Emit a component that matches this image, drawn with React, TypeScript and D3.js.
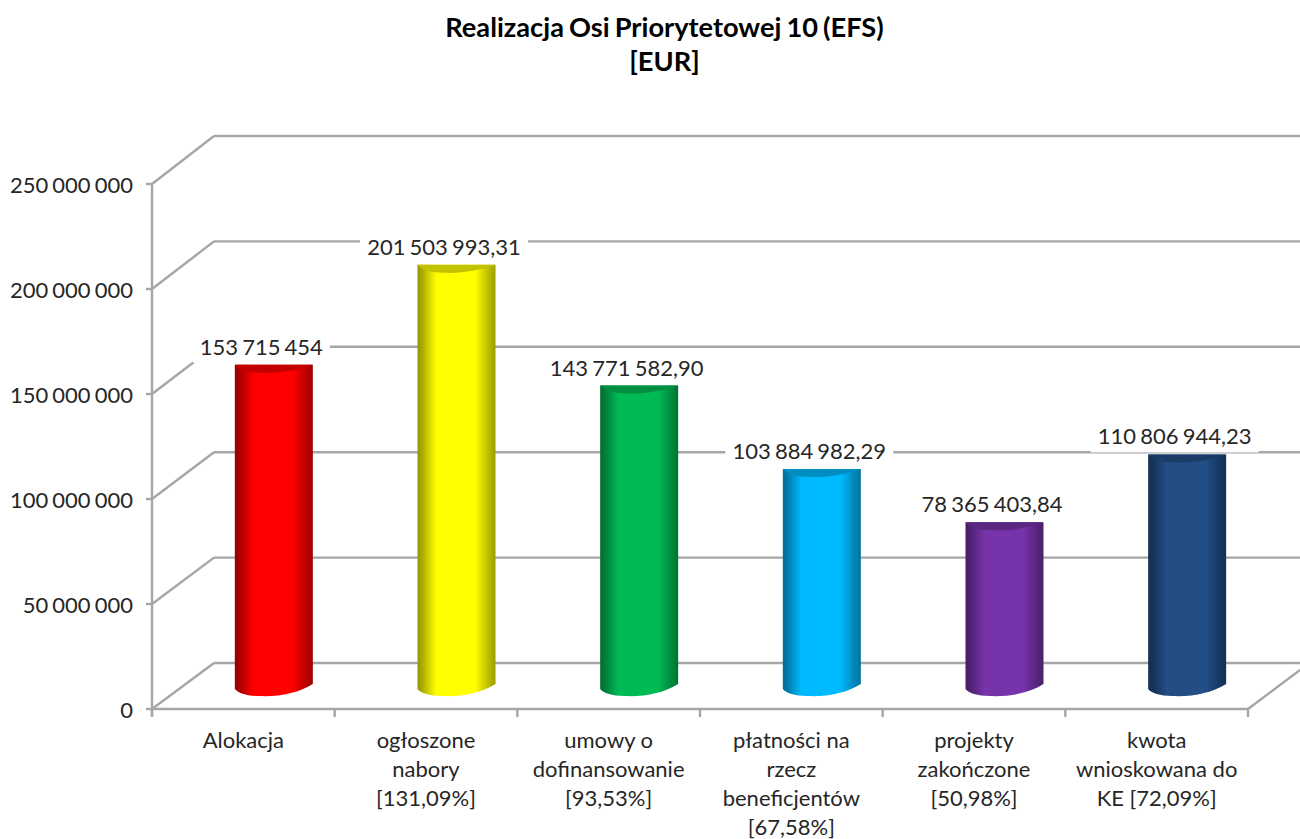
import React from "react";
import * as d3 from "d3";

const titleLines = ["Realizacja Osi Priorytetowej 10 (EFS)", "[EUR]"];
const categoryLines = [
  ["Alokacja"],
  ["ogłoszone", "nabory", "[131,09%]"],
  ["umowy o", "dofinansowanie", "[93,53%]"],
  ["płatności na", "rzecz", "beneficjentów", "[67,58%]"],
  ["projekty", "zakończone", "[50,98%]"],
  ["kwota", "wnioskowana do", "KE [72,09%]"],
];
const values = [153715454, 201503993.31, 143771582.9, 103884982.29, 78365403.84, 110806944.23];
const valueLabels = ["153 715 454", "201 503 993,31", "143 771 582,90", "103 884 982,29", "78 365 403,84", "110 806 944,23"];
const ticks = [0, 50000000, 100000000, 150000000, 200000000, 250000000];
const tickLabels = ["0", "50 000 000", "100 000 000", "150 000 000", "200 000 000", "250 000 000"];
const colors = ["#ff0000", "#ffff00", "#00bb55", "#00baff", "#7733aa", "#224d85"];

const FONT = "Lato, sans-serif";
const GRID = "#a6a6a6";
const TXT = "#262626";
const X0 = 152, X1 = 1248, DX = 62;
const y = d3.scaleLinear().domain([0, 250000000]).range([709, 184]);
const yBack = d3.scaleLinear().domain([0, 250000000]).range([663, 136]);
const yBar = d3.scaleLinear().domain([0, 250000000]).range([686, 163.5]);
const x = d3.scaleBand<number>().domain(d3.range(values.length)).range([X0, X1]);
const BAR_W = 78;

export default function App() {
  return (
    <svg width={1300} height={839} style={{ position: "absolute", left: 0, top: 0, background: "#fff" }}>
      <defs>
        {colors.map((c, i) => {
          const mix = (t: number) => d3.interpolateRgb(c, "#000")(t);
          return (
            <linearGradient key={i} id={`g${i}`} x1="0" x2="1" y1="0" y2="0">
              <stop offset="0" stopColor={mix(0.42)} />
              <stop offset="0.08" stopColor={mix(0.3)} />
              <stop offset="0.24" stopColor={c} />
              <stop offset="0.74" stopColor={c} />
              <stop offset="0.92" stopColor={mix(0.28)} />
              <stop offset="1" stopColor={mix(0.38)} />
            </linearGradient>
          );
        })}
      </defs>

      {/* grid */}
      <g stroke={GRID} strokeWidth={2.4} fill="none">
        {ticks.map((t) => (
          <g key={t}>
            <line x1={X0 - 6} x2={X0} y1={y(t)} y2={y(t)} />
            <line x1={X0} y1={y(t)} x2={X0 + DX} y2={yBack(t)} />
            <line x1={X0 + DX} y1={yBack(t)} x2={1300} y2={yBack(t)} />
          </g>
        ))}
        <line x1={X0} x2={X0} y1={y(250000000)} y2={717} />
        <line x1={X0} x2={X1} y1={709} y2={709} />
        <line x1={X1} y1={709} x2={1300} y2={670} />
        {d3.range(values.length + 1).map((i) => {
          const tx = X0 + i * x.step();
          return <line key={i} x1={tx} x2={tx} y1={709} y2={717} />;
        })}
      </g>

      {/* value label backgrounds, drawn under the bars */}
      {valueLabels.map((s, i) => {
        const cx = x(i)! + x.bandwidth() / 2 + DX / 2 - 0.5 - 12.5;
        const ly = yBar(values[i]) - 18.5;
        const w = (s.length === 11 ? 123 : s.length === 13 ? 142 : 154) + 14;
        return <rect key={i} x={cx - w / 2} y={ly - 16.5} width={w} height={33} fill="#fff" />;
      })}

      {/* bars */}
      {values.map((v, i) => {
        const cx = x(i)! + x.bandwidth() / 2 + DX / 2 - 0.5;
        const l = cx - BAR_W / 2, r = cx + BAR_W / 2;
        const top = yBar(v), bot = yBar(0);
        const body = `M${l},${top} L${r},${top} L${r},${bot - 2} C${r - 14},${bot + 7} ${l + 44},${bot + 11} ${l + 24},${bot + 10} C${l + 12},${bot + 10} ${l + 3},${bot + 7} ${l},${bot + 3} Z`;
        const cap = `M${l},${top} L${r},${top} C${r - 14},${top + 5} ${l + 44},${top + 9} ${l + 26},${top + 8} C${l + 14},${top + 8} ${l + 4},${top + 5} ${l},${top} Z`;
        return (
          <g key={i}>
            <path d={body} fill={`url(#g${i})`} />
            <path d={cap} fill={d3.interpolateRgb(colors[i], "#000")(0.24)} />
          </g>
        );
      })}

      {/* value labels */}
      {valueLabels.map((s, i) => {
        const cx = x(i)! + x.bandwidth() / 2 + DX / 2 - 0.5 - 12.5;
        const ly = yBar(values[i]) - 18.5;
        return (
          <text key={i} x={cx} y={ly} textAnchor="middle" dominantBaseline="central" fontFamily={FONT} fontSize={22} wordSpacing={-1.5} fill={TXT}>{s}</text>
        );
      })}

      {/* y tick labels */}
      {ticks.map((t, i) => (
        <text key={t} x={133} y={y(t)} textAnchor="end" dominantBaseline="central" fontFamily={FONT} fontSize={22} wordSpacing={-1.5} fill={TXT}>{tickLabels[i]}</text>
      ))}

      {/* categories */}
      {categoryLines.map((lines, i) => (
        <text key={i} textAnchor="middle" fontFamily={FONT} fontSize={22} fill={TXT}>
          {lines.map((ln, j) => (
            <tspan key={j} x={x(i)! + x.bandwidth() / 2} y={748 + j * 29}>{ln}</tspan>
          ))}
        </text>
      ))}

      {/* title */}
      <text textAnchor="middle" fontFamily={FONT} fontSize={27.2} fontWeight={700} wordSpacing={-1.5} fill="#000">
        {titleLines.map((ln, j) => (
          <tspan key={j} x={664.5} y={37 + j * 34}>{ln}</tspan>
        ))}
      </text>
    </svg>
  );
}
